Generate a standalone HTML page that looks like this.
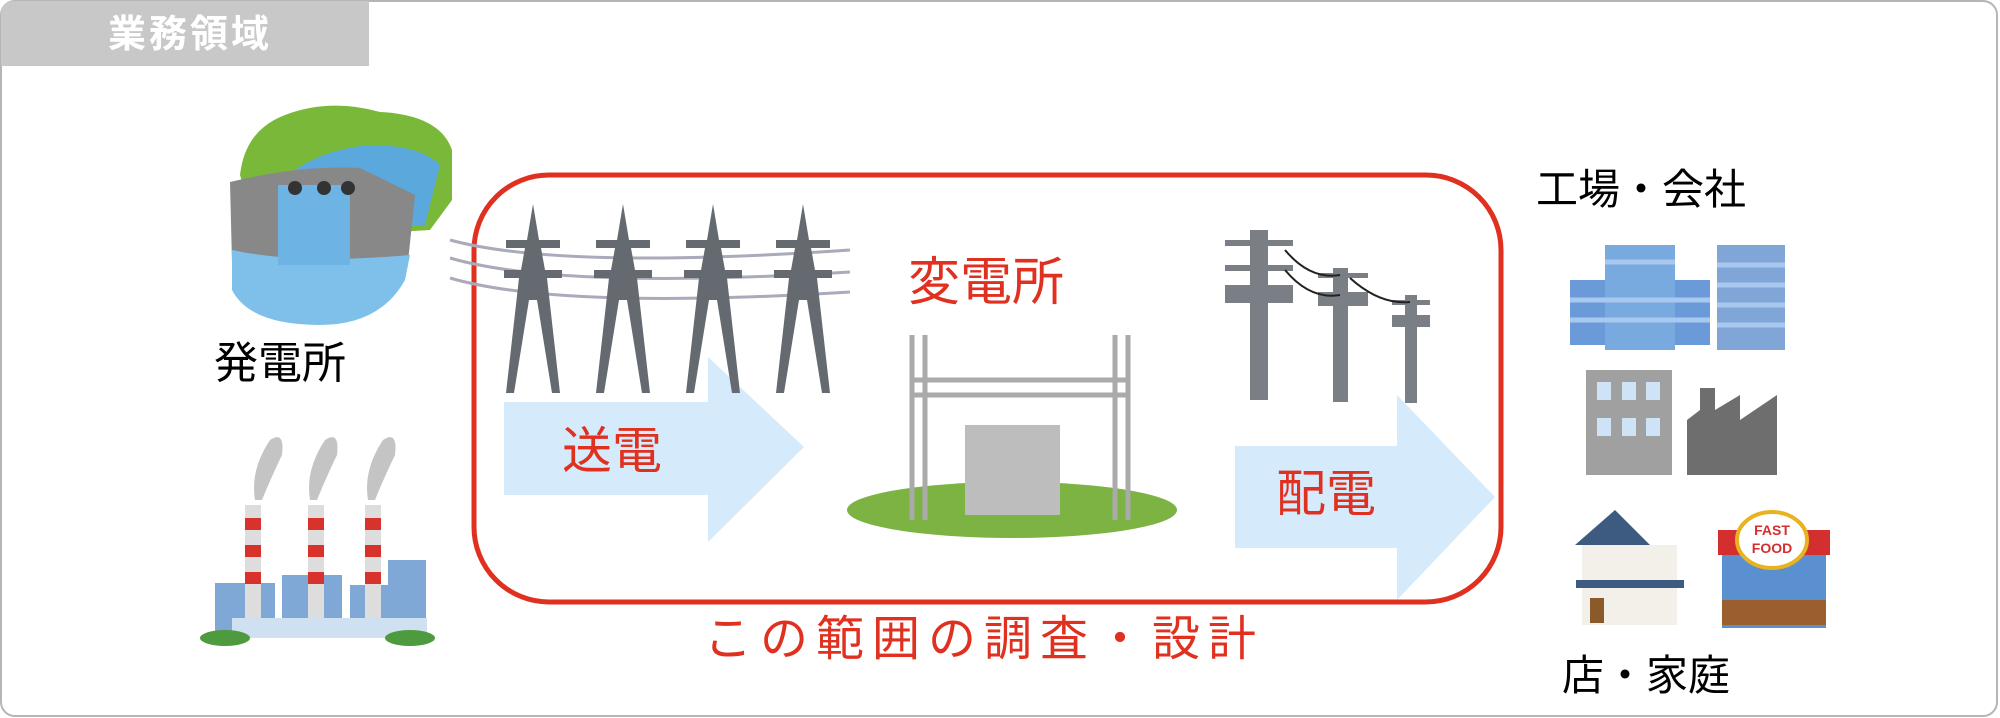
<!DOCTYPE html>
<html><head><meta charset="utf-8"><style>
body{margin:0;width:2000px;height:718px;overflow:hidden;background:#fff;}
svg{display:block}
text{font-family:"Liberation Sans","Noto Sans CJK JP",sans-serif;}
</style></head><body>
<svg width="2000" height="718" viewBox="0 0 2000 718" xmlns="http://www.w3.org/2000/svg">
<rect x="1" y="1" width="1996" height="715" rx="14" fill="#fff" stroke="#b5b5b5" stroke-width="2"/>
<path d="M1 66 V15 Q1 1 15 1 H369 V66 Z" fill="#c8c8c8"/>
<text x="190" y="47" font-size="38" fill="#fff" text-anchor="middle" font-weight="bold" letter-spacing="3">業務領域</text>

<!-- dam -->
<g>
<path d="M240 175 Q245 130 285 115 Q330 98 380 112 Q440 115 452 150 L452 200 L430 230 L260 240 Z" fill="#7ab83a"/>
<path d="M270 190 Q310 150 370 145 Q420 145 440 165 L425 225 L285 235 Z" fill="#5aa8dc"/>
<path d="M230 182 Q300 165 360 168 L415 195 L408 262 L232 262 Z" fill="#888"/>
<path d="M232 250 Q300 265 410 255 L405 280 Q380 325 320 325 Q250 325 232 290 Z" fill="#7fc0ea"/>
<rect x="278" y="185" width="72" height="80" fill="#6db3e4"/>
<circle cx="295" cy="188" r="7" fill="#333"/><circle cx="324" cy="188" r="7" fill="#333"/><circle cx="348" cy="188" r="7" fill="#333"/>
</g>
<text x="280" y="378" font-size="44" fill="#000" text-anchor="middle">発電所</text>

<!-- factory -->
<g>
<path d="M255 500 Q250 470 270 440 Q285 430 282 455 Q270 480 262 500Z" fill="#c4c4c4"/>
<path d="M310 500 Q305 470 325 440 Q340 430 337 455 Q325 480 317 500Z" fill="#c4c4c4"/>
<path d="M368 500 Q363 470 383 440 Q398 430 395 455 Q383 480 375 500Z" fill="#c4c4c4"/>
<rect x="215" y="583" width="60" height="55" fill="#7fa8d6"/>
<rect x="282" y="575" width="60" height="63" fill="#7fa8d6"/>
<rect x="350" y="585" width="40" height="53" fill="#7fa8d6"/>
<rect x="388" y="560" width="38" height="78" fill="#7fa8d6"/>
<rect x="245" y="505" width="16" height="125" fill="#ddd"/>
<rect x="308" y="505" width="16" height="125" fill="#ddd"/>
<rect x="365" y="505" width="16" height="125" fill="#ddd"/>
<g fill="#d8322c"><rect x="245" y="518" width="16" height="12"/><rect x="245" y="545" width="16" height="12"/><rect x="245" y="572" width="16" height="12"/>
<rect x="308" y="518" width="16" height="12"/><rect x="308" y="545" width="16" height="12"/><rect x="308" y="572" width="16" height="12"/>
<rect x="365" y="518" width="16" height="12"/><rect x="365" y="545" width="16" height="12"/><rect x="365" y="572" width="16" height="12"/></g>
<rect x="232" y="618" width="195" height="20" fill="#cfe0f0"/>
<ellipse cx="225" cy="638" rx="25" ry="8" fill="#4e9a3e"/><ellipse cx="410" cy="638" rx="25" ry="8" fill="#4e9a3e"/>
</g>

<!-- arrows -->
<path d="M504 402 H708 V357 L804 447 L708 542 V495 H504 Z" fill="#d5eafb"/>
<path d="M1235 446 H1397 V395 L1495 497 L1397 600 V548 H1235 Z" fill="#d5eafb"/>

<!-- red rect -->
<rect x="474" y="175" width="1027" height="427" rx="75" fill="none" stroke="#e03020" stroke-width="5"/>

<!-- wires -->
<g fill="none" stroke="#aab" stroke-width="3">
<path d="M450 240 Q560 270 850 250"/><path d="M450 258 Q560 290 850 272"/><path d="M450 278 Q560 310 850 292"/>
</g>
<!-- towers -->
<g fill="#646a70">
<g id="tw"><path d="M533 204 L539 240 L560 240 L560 248 L541 248 L545 270 L562 270 L562 278 L547 278 L560 393 L552 393 L537 300 L529 300 L514 393 L506 393 L519 278 L504 278 L504 270 L521 270 L525 248 L506 248 L506 240 L527 240Z"/></g>
<use href="#tw" x="90"/><use href="#tw" x="180"/><use href="#tw" x="270"/>
</g>

<text x="612" y="468" font-size="50" fill="#e03020" text-anchor="middle">送電</text>
<text x="986" y="300" font-size="52" fill="#e03020" text-anchor="middle">変電所</text>

<!-- substation -->
<ellipse cx="1012" cy="510" rx="165" ry="28" fill="#7cb342"/>
<g fill="none" stroke="#aaa" stroke-width="5">
<path d="M912 335 V520 M925 335 V520 M1115 335 V520 M1128 335 V520 M912 380 H1128 M912 395 H1128"/>
</g>
<rect x="965" y="425" width="95" height="90" fill="#bdbdbd"/>

<!-- poles -->
<g fill="#7a7f85">
<rect x="1250" y="230" width="18" height="170"/>
<rect x="1333" y="268" width="15" height="134"/>
<rect x="1405" y="295" width="12" height="108"/>
<rect x="1225" y="240" width="68" height="6"/><rect x="1225" y="265" width="68" height="6"/>
<rect x="1225" y="285" width="68" height="18"/>
<rect x="1318" y="273" width="50" height="5"/><rect x="1318" y="292" width="50" height="14"/>
<rect x="1392" y="300" width="38" height="5"/><rect x="1392" y="315" width="38" height="12"/>
</g>
<g fill="none" stroke="#222" stroke-width="2"><path d="M1285 250 Q1310 280 1340 275"/><path d="M1285 270 Q1310 300 1340 295"/><path d="M1350 278 Q1380 305 1410 302"/></g>

<text x="1326" y="511" font-size="50" fill="#e03020" text-anchor="middle">配電</text>
<text x="984" y="655" font-size="48" fill="#e03020" text-anchor="middle" letter-spacing="8">この範囲の調査・設計</text>

<text x="1641" y="204" font-size="42" fill="#000" text-anchor="middle">工場・会社</text>
<!-- buildings -->
<rect x="1570" y="280" width="140" height="65" fill="#6a9bd8"/>
<rect x="1605" y="245" width="70" height="105" fill="#78aae0"/>
<rect x="1717" y="245" width="68" height="105" fill="#7fa6d6"/>
<g stroke="#a8c8ef" stroke-width="5"><path d="M1570 300 H1710 M1570 320 H1710 M1605 262 H1675 M1717 265 H1785 M1717 285 H1785 M1717 305 H1785 M1717 325 H1785"/></g>
<rect x="1586" y="370" width="86" height="105" fill="#a0a0a0"/>
<g fill="#cfe3f6"><rect x="1597" y="382" width="14" height="18"/><rect x="1622" y="382" width="14" height="18"/><rect x="1646" y="382" width="14" height="18"/><rect x="1597" y="418" width="14" height="18"/><rect x="1622" y="418" width="14" height="18"/><rect x="1646" y="418" width="14" height="18"/></g>
<path d="M1687 475 V420 L1700 410 V388 H1715 V410 L1740 395 V420 L1777 395 V475Z" fill="#6e6e6e"/>

<!-- house -->
<path d="M1575 545 L1615 510 L1650 545 Z" fill="#3d5a80"/>
<rect x="1582" y="545" width="95" height="80" fill="#f3f0ea"/>
<rect x="1576" y="580" width="108" height="8" fill="#3d5a80"/>
<rect x="1590" y="598" width="14" height="25" fill="#8b5a2b"/>
<!-- store -->
<rect x="1722" y="538" width="104" height="90" fill="#5a8fd0"/>
<rect x="1722" y="600" width="104" height="25" fill="#9b5e2f"/>
<rect x="1718" y="530" width="112" height="25" fill="#d32f2f"/>
<ellipse cx="1772" cy="540" rx="35" ry="28" fill="#fff" stroke="#e8b220" stroke-width="4"/>
<text x="1772" y="535" font-size="14" fill="#d32f2f" text-anchor="middle" font-weight="bold">FAST</text>
<text x="1772" y="553" font-size="14" fill="#d32f2f" text-anchor="middle" font-weight="bold">FOOD</text>

<text x="1646" y="690" font-size="42" fill="#000" text-anchor="middle">店・家庭</text>
</svg>
</body></html>
